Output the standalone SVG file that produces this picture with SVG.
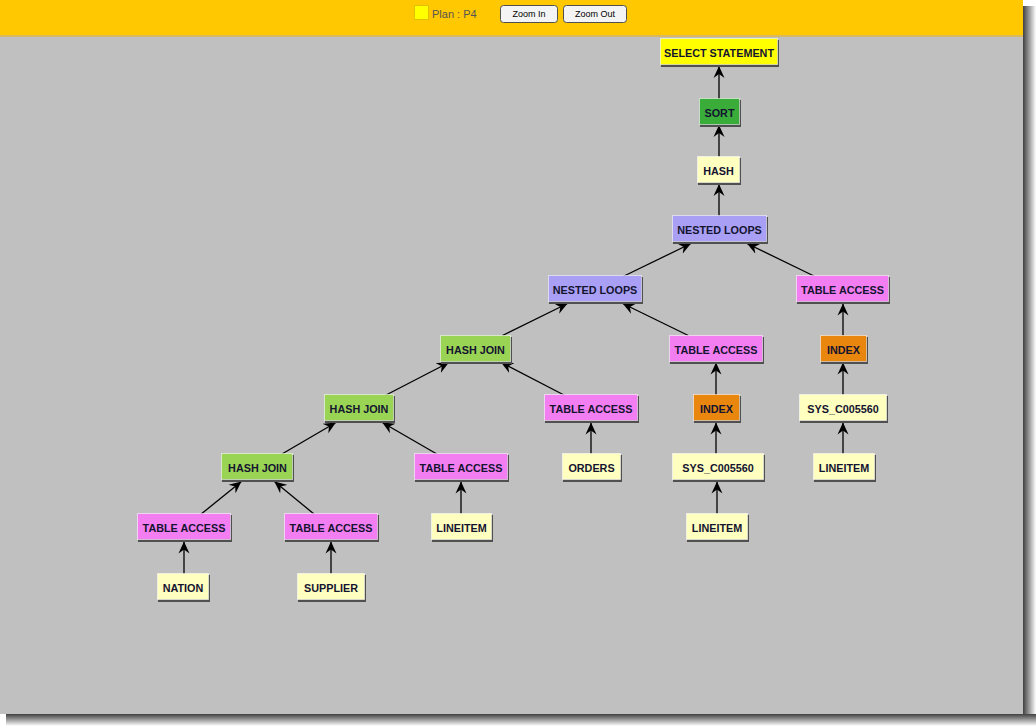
<svg xmlns="http://www.w3.org/2000/svg" width="1036" height="726" viewBox="0 0 1036 726">
<defs>
<linearGradient id="shR" x1="0" x2="1" y1="0" y2="0"><stop offset="0" stop-color="#404040"/><stop offset="1" stop-color="#ffffff"/></linearGradient>
<linearGradient id="shB" x1="0" x2="0" y1="0" y2="1"><stop offset="0" stop-color="#404040"/><stop offset="1" stop-color="#ffffff"/></linearGradient>
<marker id="arr" viewBox="0 0 12 12" refX="12" refY="6" markerWidth="12" markerHeight="12" markerUnits="userSpaceOnUse" orient="auto">
<path d="M12,6 L0,0.5 L4,6 L0,11.5 z" fill="#000"/>
</marker>
<style>
.sh{fill:#505050}
.bx{stroke:#ffffff;stroke-opacity:0.55;stroke-width:1}
.t{font-family:"Liberation Sans",Arial,sans-serif;font-weight:bold;font-size:10.8px;fill:#141430;text-anchor:middle}
.c-sel{fill:#ffff00}.c-sort{fill:#3aac3a}.c-ly{fill:#ffffc0}.c-nl{fill:#a9a0f6}.c-ta{fill:#f27ef2}.c-hj{fill:#9ad455}.c-ix{fill:#e8860e}
.e{stroke:#000;stroke-width:1.3;fill:none;marker-end:url(#arr)}
.btn{fill:#f4f4f4;stroke:#505050;stroke-width:1}
.bt{font-family:"Liberation Sans",Arial,sans-serif;font-size:9px;fill:#000;text-anchor:middle}
</style>
</defs>
<rect x="0" y="0" width="1036" height="726" fill="#ffffff"/>
<rect x="1023" y="6" width="13" height="714" fill="url(#shR)"/>
<rect x="6" y="714" width="1030" height="12" fill="url(#shB)"/>
<rect x="0" y="0" width="1023" height="714" fill="#c0c0c0"/>
<rect x="0" y="0" width="1023" height="35" fill="#ffc800"/>
<rect x="0" y="35" width="1023" height="2" fill="#d8b860"/>
<g id="toolbar">
<rect x="414.5" y="5.5" width="14" height="14" fill="#ffff00" stroke="#e0c000"/>
<text x="432" y="18" font-family="&quot;Liberation Sans&quot;,Arial,sans-serif" font-size="11" fill="#555">Plan : P4</text>
<rect class="btn" x="500.5" y="5.5" width="57" height="17" rx="3"/>
<text class="bt" x="529" y="17">Zoom In</text>
<rect class="btn" x="563.5" y="5.5" width="63" height="17" rx="3"/>
<text class="bt" x="595" y="17">Zoom Out</text>
</g>
<g id="connectors">
<line class="e" x1="719" y1="99" x2="719" y2="66"/>
<line class="e" x1="719" y1="157" x2="719" y2="125"/>
<line class="e" x1="719" y1="216.5" x2="719" y2="184"/>
<line class="e" x1="623" y1="276.5" x2="691" y2="243.5"/>
<line class="e" x1="815" y1="276.5" x2="747" y2="243.5"/>
<line class="e" x1="502.5" y1="335.5" x2="567.5" y2="303.5"/>
<line class="e" x1="688.3" y1="335.5" x2="622.7" y2="303.5"/>
<line class="e" x1="843" y1="335.5" x2="843" y2="303.5"/>
<line class="e" x1="385.1" y1="395.5" x2="448.9" y2="362.5"/>
<line class="e" x1="564.9" y1="395.5" x2="501.1" y2="362.5"/>
<line class="e" x1="716" y1="395.5" x2="716" y2="362.5"/>
<line class="e" x1="843" y1="395.5" x2="843" y2="362.5"/>
<line class="e" x1="281.1" y1="454.5" x2="335.9" y2="422.5"/>
<line class="e" x1="437.7" y1="454.5" x2="382.3" y2="422.5"/>
<line class="e" x1="591" y1="454.5" x2="591" y2="422.5"/>
<line class="e" x1="716" y1="454.5" x2="716" y2="422.5"/>
<line class="e" x1="843" y1="454.5" x2="843" y2="422.5"/>
<line class="e" x1="200.6" y1="514.5" x2="241.4" y2="481.5"/>
<line class="e" x1="314.6" y1="514.5" x2="274.4" y2="481.5"/>
<line class="e" x1="461" y1="514.5" x2="461" y2="481.5"/>
<line class="e" x1="717" y1="514.5" x2="717" y2="481.5"/>
<line class="e" x1="184" y1="574.5" x2="184" y2="541.5"/>
<line class="e" x1="331" y1="574.5" x2="331" y2="541.5"/>
</g>
<g id="n-select"><rect class="sh" x="661" y="40" width="118" height="27"/><rect class="bx c-sel" x="660.5" y="38.5" width="117" height="26"/><text class="t" x="719" y="57">SELECT STATEMENT</text></g>
<g id="n-sort"><rect class="sh" x="700" y="100" width="41" height="27"/><rect class="bx c-sort" x="699.5" y="98.5" width="40" height="26"/><text class="t" x="719.5" y="117">SORT</text></g>
<g id="n-hash"><rect class="sh" x="698" y="158" width="43" height="27"/><rect class="bx c-ly" x="697.5" y="156.5" width="42" height="26"/><text class="t" x="718.5" y="175">HASH</text></g>
<g id="n-nl1"><rect class="sh" x="673" y="217" width="95" height="27"/><rect class="bx c-nl" x="672.5" y="215.5" width="94" height="26"/><text class="t" x="719.5" y="234">NESTED LOOPS</text></g>
<g id="n-nl2"><rect class="sh" x="549" y="277" width="94" height="27"/><rect class="bx c-nl" x="548.5" y="275.5" width="93" height="26"/><text class="t" x="595" y="294">NESTED LOOPS</text></g>
<g id="n-ta-r"><rect class="sh" x="797" y="277" width="93" height="27"/><rect class="bx c-ta" x="796.5" y="275.5" width="92" height="26"/><text class="t" x="842.5" y="294">TABLE ACCESS</text></g>
<g id="n-hj3"><rect class="sh" x="441" y="337" width="71" height="27"/><rect class="bx c-hj" x="440.5" y="335.5" width="70" height="26"/><text class="t" x="475.5" y="354">HASH JOIN</text></g>
<g id="n-ta-m"><rect class="sh" x="670" y="337" width="94" height="27"/><rect class="bx c-ta" x="669.5" y="335.5" width="93" height="26"/><text class="t" x="716" y="354">TABLE ACCESS</text></g>
<g id="n-ix-r"><rect class="sh" x="821" y="337" width="47" height="27"/><rect class="bx c-ix" x="820.5" y="335.5" width="46" height="26"/><text class="t" x="843.5" y="354">INDEX</text></g>
<g id="n-hj2"><rect class="sh" x="325" y="396" width="70" height="27"/><rect class="bx c-hj" x="324.5" y="394.5" width="69" height="26"/><text class="t" x="359" y="413">HASH JOIN</text></g>
<g id="n-ta-o"><rect class="sh" x="545" y="396" width="94" height="27"/><rect class="bx c-ta" x="544.5" y="394.5" width="93" height="26"/><text class="t" x="591" y="413">TABLE ACCESS</text></g>
<g id="n-ix-m"><rect class="sh" x="694" y="396" width="47" height="27"/><rect class="bx c-ix" x="693.5" y="394.5" width="46" height="26"/><text class="t" x="716.5" y="413">INDEX</text></g>
<g id="n-sys-r"><rect class="sh" x="800" y="396" width="88" height="27"/><rect class="bx c-ly" x="799.5" y="394.5" width="87" height="26"/><text class="t" x="843" y="413">SYS_C005560</text></g>
<g id="n-hj1"><rect class="sh" x="222" y="455" width="72" height="27"/><rect class="bx c-hj" x="221.5" y="453.5" width="71" height="26"/><text class="t" x="257.5" y="472">HASH JOIN</text></g>
<g id="n-ta-l"><rect class="sh" x="415" y="455" width="94" height="27"/><rect class="bx c-ta" x="414.5" y="453.5" width="93" height="26"/><text class="t" x="461" y="472">TABLE ACCESS</text></g>
<g id="n-orders"><rect class="sh" x="563" y="455" width="59" height="27"/><rect class="bx c-ly" x="562.5" y="453.5" width="58" height="26"/><text class="t" x="591.5" y="472">ORDERS</text></g>
<g id="n-sys-m"><rect class="sh" x="673" y="455" width="92" height="27"/><rect class="bx c-ly" x="672.5" y="453.5" width="91" height="26"/><text class="t" x="718" y="472">SYS_C005560</text></g>
<g id="n-li-r"><rect class="sh" x="814" y="455" width="62" height="27"/><rect class="bx c-ly" x="813.5" y="453.5" width="61" height="26"/><text class="t" x="844" y="472">LINEITEM</text></g>
<g id="n-ta-n"><rect class="sh" x="138" y="515" width="94" height="27"/><rect class="bx c-ta" x="137.5" y="513.5" width="93" height="26"/><text class="t" x="184" y="532">TABLE ACCESS</text></g>
<g id="n-ta-s"><rect class="sh" x="285" y="515" width="94" height="27"/><rect class="bx c-ta" x="284.5" y="513.5" width="93" height="26"/><text class="t" x="331" y="532">TABLE ACCESS</text></g>
<g id="n-li-l"><rect class="sh" x="432" y="515" width="61" height="27"/><rect class="bx c-ly" x="431.5" y="513.5" width="60" height="26"/><text class="t" x="461.5" y="532">LINEITEM</text></g>
<g id="n-li-m"><rect class="sh" x="687" y="515" width="62" height="27"/><rect class="bx c-ly" x="686.5" y="513.5" width="61" height="26"/><text class="t" x="717" y="532">LINEITEM</text></g>
<g id="n-nation"><rect class="sh" x="158" y="575" width="52" height="27"/><rect class="bx c-ly" x="157.5" y="573.5" width="51" height="26"/><text class="t" x="183" y="592">NATION</text></g>
<g id="n-supplier"><rect class="sh" x="298" y="575" width="68" height="27"/><rect class="bx c-ly" x="297.5" y="573.5" width="67" height="26"/><text class="t" x="331" y="592">SUPPLIER</text></g>
</svg>
